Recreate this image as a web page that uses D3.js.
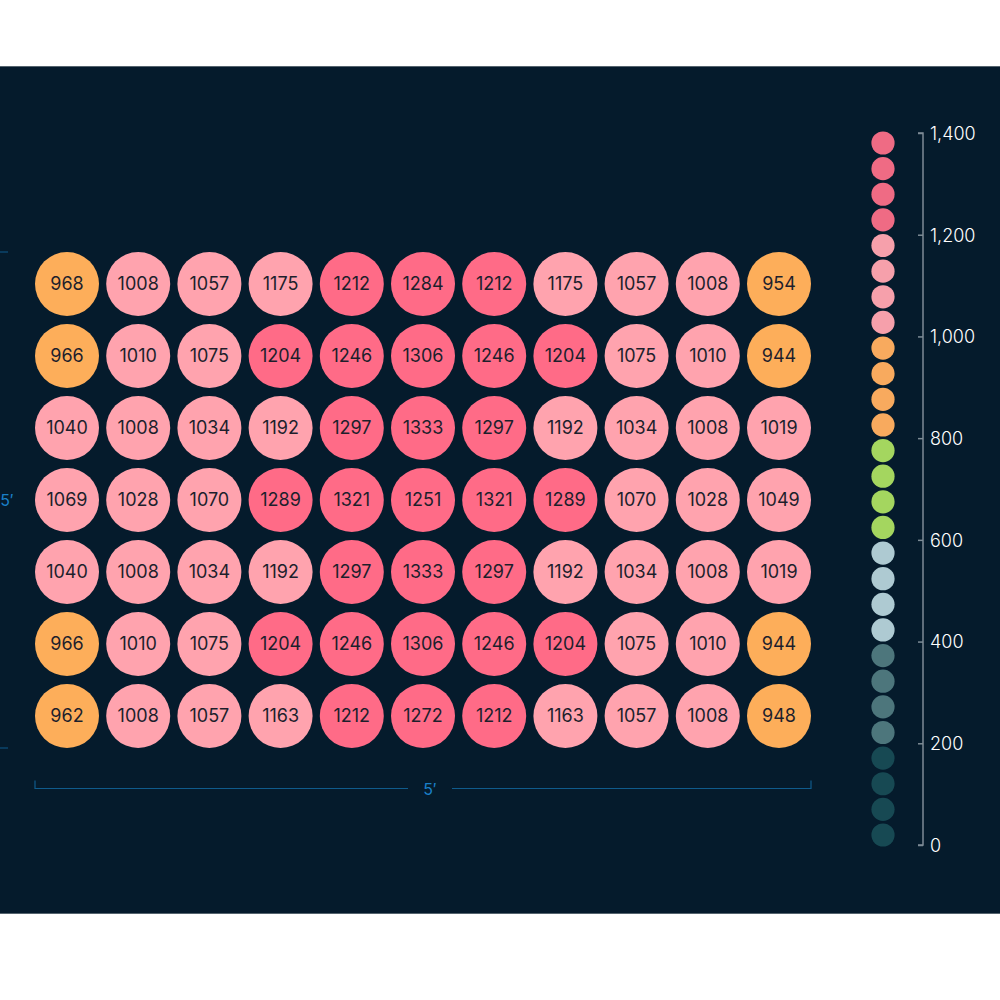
<!DOCTYPE html>
<html>
<head>
<meta charset="utf-8">
<script src="https://cdn.jsdelivr.net/npm/d3@7"></script>
<style>
html,body{margin:0;padding:0;background:#fff;}
svg{display:block;}
</style>
</head>
<body>
<svg id="chart" width="1000" height="1000"></svg>
<script>
// ---- data ----
const rowIndex = [0,1,2,3,4,5,6];
const colIndex = [0,1,2,3,4,5,6,7,8,9,10];
const row0 = [968,1008,1057,1175,1212,1284,1212,1175,1057,1008,954];
const row1 = [966,1010,1075,1204,1246,1306,1246,1204,1075,1010,944];
const row2 = [1040,1008,1034,1192,1297,1333,1297,1192,1034,1008,1019];
const row3 = [1069,1028,1070,1289,1321,1251,1321,1289,1070,1028,1049];
const row4 = [1040,1008,1034,1192,1297,1333,1297,1192,1034,1008,1019];
const row5 = [966,1010,1075,1204,1246,1306,1246,1204,1075,1010,944];
const row6 = [962,1008,1057,1163,1212,1272,1212,1163,1057,1008,948];
const rows = [row0,row1,row2,row3,row4,row5,row6];

const thresholds = [200,400,600,800,1000,1200];
const gridColors = ["#1a4b56","#4f787e","#b0ccd5","#a6d962","#fdae5a","#ffa3ae","#ff6b87"];
const legendColors = ["#174953","#4d767c","#aecad2","#a4d65f","#f8aa5e","#f6a0ab","#ef6b84"];
const legendValues = d3.range(28).map(i => 25 + 50*i);
const legendTicks = [0,200,400,600,800,1000,1200,1400];
const widthLabel = "5\u2032";
const heightLabel = "5\u2032";

// ---- drawing ----
const svg = d3.select("#chart");

svg.append("rect").attr("x",0).attr("y",66).attr("width",1000).attr("height",847).attr("fill","#051b2c");
svg.append("line").attr("x1",0).attr("x2",1000).attr("y1",66.5).attr("y2",66.5).attr("stroke","#55646e").attr("stroke-width",1);
svg.append("line").attr("x1",0).attr("x2",1000).attr("y1",913.5).attr("y2",913.5).attr("stroke","#55646e").attr("stroke-width",1);

const x = d3.scaleLinear().domain([0,10]).range([67,779]);
const y = d3.scaleLinear().domain([0,6]).range([284,716]);
const r = 32;

const gridColor = d3.scaleThreshold().domain(thresholds).range(gridColors);
const legColor = d3.scaleThreshold().domain(thresholds).range(legendColors);

const cells = [];
rowIndex.forEach(ri => colIndex.forEach(ci => cells.push({ri, ci, v: rows[ri][ci]})));

const g = svg.append("g");
const cell = g.selectAll("g.cell").data(cells).join("g")
  .attr("class","cell")
  .attr("transform", d => `translate(${x(d.ci)},${y(d.ri)})`);
cell.append("circle").attr("r", r).attr("fill", d => gridColor(d.v));
cell.append("text")
  .attr("text-anchor","middle")
  .attr("dy","0.36em")
  .attr("font-family","Inter, Lato, sans-serif")
  .attr("font-size",18)
  .attr("fill","#1d1f2c")
  .text(d => d.v);

// dimension lines
const dimColor = "#0f5b8c";
const dimText = "#1a80c8";
const bx0 = x(0) - r, bx1 = x(10) + r, by = 788.5;
const bottom = svg.append("g");
const bmid = (bx0 + bx1)/2 + 7;
bottom.append("path")
  .attr("d", `M${bx0},${by-8}V${by}H${bmid-22}M${bmid+22},${by}H${bx1}V${by-8}`)
  .attr("fill","none").attr("stroke",dimColor).attr("stroke-width",1.2);
bottom.append("text").attr("x",bmid).attr("y",by+6)
  .attr("text-anchor","middle").attr("font-family","Inter, sans-serif").attr("font-size",16)
  .attr("fill",dimText).text(widthLabel);

const ly0 = y(0) - r, ly1 = y(6) + r, lx = -1;
const left = svg.append("g");
left.append("path")
  .attr("d", `M${lx+9},${ly0}H${lx}V${ly1}H${lx+9}`)
  .attr("fill","none").attr("stroke",dimColor).attr("stroke-width",1.2);
left.append("text").attr("x",7).attr("y",(ly0+ly1)/2+6)
  .attr("text-anchor","middle").attr("font-family","Inter, sans-serif").attr("font-size",16)
  .attr("fill",dimText).text(heightLabel);

// legend
const ly = d3.scaleLinear().domain([0,1400]).range([845,133]);
const lpos = d3.scaleLinear().domain([25,1375]).range([835,143]);
svg.append("g").selectAll("circle").data(legendValues).join("circle")
  .attr("cx",883).attr("cy", d => lpos(d)).attr("r",11.6)
  .attr("fill", d => legColor(d));

const axis = d3.axisRight(ly).tickValues(legendTicks).tickSize(0).tickPadding(7).tickFormat(d3.format(","));
const ag = svg.append("g").attr("transform","translate(923,0)").call(axis);
ag.select(".domain").attr("stroke","#7d8b95").attr("stroke-width",1.5).attr("d", `M-5,${ly(1400)}H0V${ly(0)}H-5`);
ag.selectAll(".tick").append("line").attr("x1",-5).attr("x2",0).attr("stroke","#7d8b95").attr("stroke-width",1.5);
ag.selectAll(".tick text")
  .attr("fill","#ffffff")
  .attr("font-family","Inter, Lato, sans-serif")
  .attr("font-weight",300)
  .attr("font-size",18)
  .attr("dy","0.35em");
</script>
</body>
</html>
